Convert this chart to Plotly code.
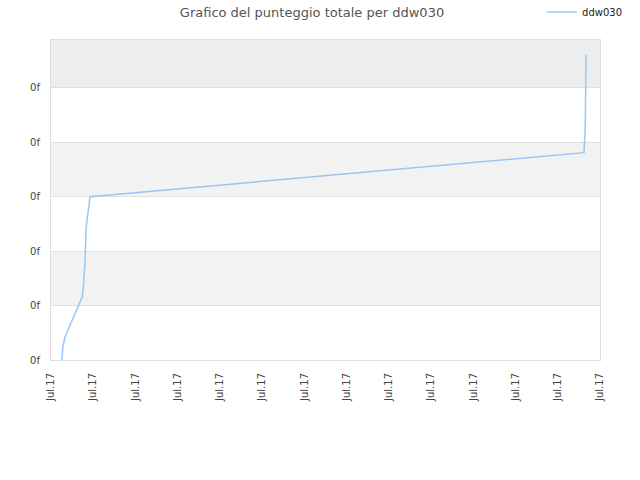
import plotly.graph_objects as go

# data
dates = [
    "2017-07-01 06:14", "2017-07-01 06:39", "2017-07-01 07:55",
    "2017-07-01 17:46", "2017-07-01 18:22", "2017-07-01 19:19",
    "2017-07-01 19:55", "2017-07-01 20:17", "2017-07-01 21:46",
    "2017-07-01 22:09", "2017-07-13 14:53", "2017-07-13 15:36",
    "2017-07-13 16:05",
]
scores = [0, 0.22, 0.42, 1.16, 1.34, 1.80, 2.39, 2.52, 2.89, 3.00, 3.81, 4.25, 5.61]

y_ticks = [0, 1, 2, 3, 4, 5]
y_labels = ["0f"] * len(y_ticks)
band_ranges = [(1, 2), (3, 4), (5, 5.88)]
band_colors = ["#f2f2f2", "#f2f2f2", "#ededed"]

fig = go.Figure()
fig.add_trace(go.Scatter(
    x=dates, y=scores, mode="lines", name="ddw030",
    line=dict(color="#99c6f3", width=1.5),
))

for (lo, hi), col in zip(band_ranges, band_colors):
    fig.add_shape(type="rect", xref="paper", yref="y", x0=0, x1=1, y0=lo, y1=hi,
                  fillcolor=col, line_width=0, layer="below")

fig.update_layout(
    width=640, height=480,
    margin=dict(l=51, r=40, t=40, b=120, autoexpand=False),
    paper_bgcolor="white", plot_bgcolor="white",
    font=dict(family="DejaVu Sans", size=10, color="#444"),
    title=dict(text="Grafico del punteggio totale per ddw030", x=0.4875, xanchor="center",
               xref="container", yref="container", y=0.975, yanchor="middle",
               font=dict(size=13, color="#555")),
    showlegend=True,
    legend=dict(x=0.847, y=0.975, xref="container", yref="container",
                xanchor="left", yanchor="middle", bgcolor="rgba(0,0,0,0)",
                itemwidth=30, font=dict(size=10, color="#222")),
)
fig.update_xaxes(
    type="date", range=["2017-07-01", "2017-07-14"], dtick=86400000, tick0="2017-07-01",
    tickformat="%b.%y", tickangle=-90, showgrid=False, zeroline=False, automargin=False,
    showline=True, linecolor="#dddddd", mirror=True, ticks="", ticklabelstandoff=8,
    tickfont=dict(size=10, color="#444"),
)
fig.update_yaxes(
    range=[0, 5.88], tickvals=y_ticks, ticktext=y_labels, showgrid=True, automargin=False,
    gridcolor="#e0e0e0", zeroline=False, showline=True, linecolor="#dddddd",
    mirror=True, ticks="", ticklabelstandoff=8, tickfont=dict(size=10, color="#444"),
)

fig.write_html("out.html", config={"displayModeBar": False},
               post_script="document.body.style.margin = '0';")
